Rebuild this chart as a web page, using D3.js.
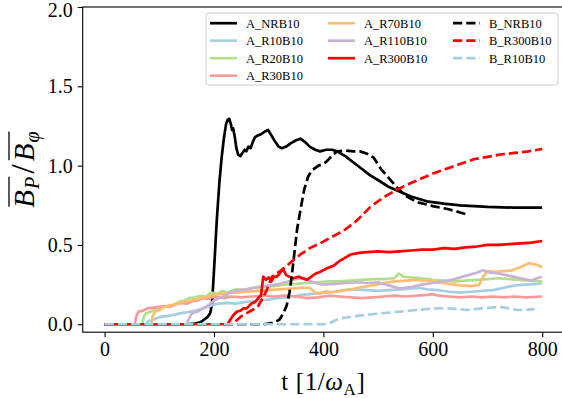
<!DOCTYPE html>
<html>
<head>
<meta charset="utf-8">
<script src="https://cdn.jsdelivr.net/npm/d3@7"></script>
<style>
  body { margin: 0; background: #fff; }
  svg text { font-family: "Liberation Serif", "DejaVu Serif", serif; }
</style>
</head>
<body>
<svg id="chart" width="562" height="398"></svg>
<script>
// Time series of the poloidal / toroidal mean-field ratio, [t, ratio]
const A_NRB10 = [[0,0],[150,0],[165,0.005],[175,0.012],[181,0.027],[188,0.045],[193,0.07],[196,0.12],[198,0.22],[201,0.4],[205,0.65],[210,0.9],[214,1.05],[218,1.17],[222,1.26],[225,1.29],[228,1.295],[231,1.26],[233,1.225],[235,1.235],[238,1.18],[241,1.11],[244,1.07],[248,1.06],[252,1.08],[256,1.1],[259,1.09],[263,1.12],[267,1.11],[271,1.15],[275,1.18],[280,1.19],[287,1.2],[293,1.215],[299,1.225],[305,1.19],[312,1.15],[318,1.12],[324,1.11],[332,1.12],[340,1.14],[350,1.16],[358,1.17],[366,1.15],[375,1.12],[385,1.1],[394,1.09],[405,1.1],[416,1.1],[425,1.09],[440,1.06],[455,1.02],[470,0.98],[485,0.94],[504,0.9],[520,0.865],[540,0.835],[560,0.805],[589,0.775],[620,0.76],[650,0.75],[700,0.74],[750,0.735],[800,0.735]];
const A_R10B10 = [[0,0],[75,0],[80,0.02],[90,0.03],[100,0.045],[110,0.05],[120,0.055],[130,0.062],[140,0.07],[150,0.075],[160,0.082],[170,0.09],[180,0.1],[190,0.11],[200,0.125],[210,0.13],[225,0.135],[240,0.13],[255,0.14],[270,0.145],[285,0.15],[300,0.155],[315,0.165],[330,0.17],[345,0.175],[360,0.185],[375,0.19],[390,0.195],[405,0.2],[420,0.205],[440,0.215],[460,0.22],[480,0.215],[500,0.21],[520,0.215],[540,0.22],[560,0.225],[575,0.23],[590,0.22],[610,0.215],[630,0.205],[650,0.2],[670,0.205],[690,0.21],[710,0.215],[730,0.23],[750,0.245],[770,0.25],[790,0.255],[800,0.26]];
const A_R20B10 = [[0,0],[68,0],[72,0.05],[76,0.07],[85,0.08],[95,0.1],[105,0.105],[115,0.115],[125,0.12],[135,0.14],[145,0.15],[155,0.165],[165,0.17],[175,0.18],[185,0.175],[195,0.2],[205,0.19],[215,0.21],[225,0.2],[240,0.22],[255,0.215],[270,0.23],[290,0.235],[310,0.24],[330,0.25],[350,0.255],[370,0.26],[390,0.265],[410,0.27],[430,0.27],[450,0.275],[470,0.28],[490,0.285],[510,0.285],[530,0.29],[538,0.32],[546,0.3],[560,0.295],[580,0.29],[600,0.28],[620,0.275],[640,0.27],[660,0.275],[680,0.28],[700,0.285],[720,0.29],[740,0.285],[760,0.28],[780,0.275],[800,0.27]];
const A_R30B10 = [[0,0],[55,0],[58,0.05],[62,0.08],[70,0.085],[78,0.1],[90,0.105],[100,0.11],[110,0.115],[120,0.11],[130,0.125],[140,0.135],[150,0.13],[160,0.145],[170,0.15],[180,0.165],[190,0.16],[200,0.175],[210,0.17],[220,0.165],[230,0.175],[250,0.17],[270,0.175],[290,0.18],[310,0.175],[330,0.18],[350,0.175],[370,0.165],[390,0.17],[410,0.18],[430,0.175],[450,0.17],[470,0.165],[490,0.17],[510,0.175],[530,0.18],[550,0.175],[570,0.18],[590,0.185],[600,0.19],[610,0.18],[630,0.175],[650,0.17],[670,0.175],[690,0.17],[710,0.175],[730,0.17],[750,0.175],[770,0.17],[800,0.175]];
const A_R70B10 = [[0,0],[85,0],[88,0.05],[92,0.08],[100,0.09],[110,0.11],[120,0.12],[130,0.125],[140,0.14],[150,0.145],[160,0.15],[170,0.16],[180,0.17],[190,0.175],[200,0.185],[210,0.19],[220,0.195],[230,0.2],[240,0.2],[260,0.205],[280,0.21],[300,0.215],[320,0.22],[340,0.225],[360,0.23],[375,0.23],[385,0.2],[395,0.195],[405,0.21],[415,0.2],[430,0.21],[450,0.22],[470,0.235],[490,0.245],[510,0.26],[530,0.27],[550,0.275],[570,0.28],[590,0.275],[610,0.265],[630,0.255],[650,0.245],[670,0.24],[685,0.25],[692,0.3],[700,0.335],[715,0.33],[730,0.335],[745,0.34],[760,0.36],[775,0.385],[790,0.375],[800,0.36]];
const A_R110B10 = [[0,0],[150,0],[155,0.04],[160,0.07],[170,0.08],[180,0.1],[190,0.12],[200,0.15],[210,0.165],[220,0.18],[230,0.2],[245,0.215],[260,0.22],[275,0.23],[290,0.24],[305,0.245],[320,0.255],[335,0.27],[350,0.285],[360,0.29],[370,0.28],[385,0.26],[400,0.25],[420,0.255],[440,0.26],[460,0.265],[480,0.26],[500,0.265],[520,0.245],[540,0.225],[560,0.235],[580,0.25],[600,0.26],[620,0.27],[640,0.285],[660,0.305],[680,0.325],[692,0.34],[705,0.325],[720,0.32],[740,0.305],[760,0.29],[780,0.275],[790,0.29],[800,0.3]];
const A_R300B10 = [[0,0],[225,0],[230,0.03],[236,0.06],[242,0.08],[248,0.085],[254,0.1],[260,0.1],[268,0.13],[275,0.14],[282,0.17],[286,0.18],[290,0.3],[295,0.28],[300,0.295],[305,0.27],[310,0.3],[315,0.3],[320,0.32],[326,0.35],[332,0.31],[338,0.3],[345,0.29],[355,0.3],[362,0.29],[370,0.28],[378,0.3],[386,0.32],[394,0.33],[405,0.35],[419,0.37],[430,0.4],[440,0.42],[450,0.44],[465,0.45],[480,0.455],[500,0.46],[520,0.455],[540,0.46],[560,0.465],[580,0.47],[600,0.47],[620,0.48],[640,0.475],[660,0.485],[680,0.49],[700,0.5],[720,0.5],[740,0.505],[760,0.51],[780,0.515],[800,0.525]];
const B_NRB10 = [[0,0],[290,0],[300,0.005],[310,0.01],[320,0.03],[327,0.07],[333,0.12],[338,0.2],[342,0.3],[347,0.45],[352,0.6],[358,0.72],[365,0.85],[372,0.93],[379,0.97],[391,1.0],[400,1.01],[407,1.03],[415,1.06],[425,1.09],[440,1.095],[455,1.09],[467,1.09],[480,1.075],[492,1.05],[505,0.98],[520,0.92],[535,0.86],[550,0.81],[571,0.77],[600,0.745],[629,0.725],[650,0.705],[665,0.69]];
const B_R300B10 = [[0,0],[235,0],[240,0.02],[250,0.05],[260,0.07],[270,0.09],[280,0.11],[290,0.17],[297,0.22],[306,0.3],[315,0.32],[327,0.35],[340,0.39],[358,0.44],[375,0.48],[394,0.51],[415,0.55],[437,0.59],[460,0.65],[486,0.74],[510,0.8],[535,0.85],[560,0.89],[580,0.92],[600,0.95],[625,0.98],[650,1.01],[675,1.04],[700,1.055],[723,1.07],[750,1.08],[775,1.09],[800,1.105]];
const B_R10B10 = [[0,0],[405,0],[413,0.01],[425,0.03],[437,0.04],[455,0.05],[480,0.06],[510,0.07],[541,0.08],[570,0.09],[602,0.1],[630,0.1],[662,0.09],[690,0.1],[723,0.11],[740,0.1],[754,0.09],[770,0.09],[786,0.095]];

const seriesNames = ["A_NRB10","A_R10B10","A_R20B10","A_R30B10","A_R70B10","A_R110B10","A_R300B10","B_NRB10","B_R300B10","B_R10B10"];
const seriesData = [A_NRB10, A_R10B10, A_R20B10, A_R30B10, A_R70B10, A_R110B10, A_R300B10, B_NRB10, B_R300B10, B_R10B10];
const xTicks = [0, 200, 400, 600, 800];
const yTicks = [0, 0.5, 1.0, 1.5, 2.0];

// line styles per series
const colors = ["#000000","#a6cee3","#b2df8a","#fb9a99","#fdbf6f","#cab2d6","#ff0000","#000000","#ff0000","#a6cee3"];
const dashed = [false,false,false,false,false,false,false,true,true,true];

const svg = d3.select("#chart");
const pL = 82.7, pR = 564.1, pT = 7, pB = 332.2;

const x = d3.scaleLinear().domain([-40, 840]).range([pL, pR]);
const y = d3.scaleLinear().domain([-0.05, 2.0]).range([pB, pT]);

svg.append("defs").append("clipPath").attr("id", "plotclip")
  .append("rect").attr("x", pL).attr("y", pT).attr("width", pR - pL).attr("height", pB - pT);

const line = d3.line().x(d => x(d[0])).y(d => y(d[1]));

const plot = svg.append("g").attr("clip-path", "url(#plotclip)");
seriesData.forEach((data, i) => {
  plot.append("path")
    .datum(data)
    .attr("d", line)
    .attr("fill", "none")
    .attr("stroke", colors[i])
    .attr("stroke-width", 2.7)
    .attr("stroke-linejoin", "round")
    .attr("stroke-dasharray", dashed[i] ? "9.25,4" : null);
});

// axes
const xAxis = svg.append("g").attr("transform", `translate(0,${pB})`)
  .call(d3.axisBottom(x).tickValues(xTicks).tickFormat(d3.format("d")).tickSize(5).tickPadding(5));
const yAxis = svg.append("g").attr("transform", `translate(${pL},0)`)
  .call(d3.axisLeft(y).tickValues(yTicks).tickFormat(d3.format(".1f")).tickSize(5).tickPadding(5));
[xAxis, yAxis].forEach(g => {
  g.select(".domain").remove();
  g.selectAll("line").attr("stroke", "#000").attr("stroke-width", 1.1);
  g.selectAll("text").attr("fill", "#000").style("font-size", "20px")
    .style("font-family", '"Liberation Serif", serif');
});
// keep the top label inside the canvas
yAxis.selectAll(".tick text").filter(d => d === 2.0).attr("dy", "0.45em");

// frame
svg.append("rect").attr("x", pL).attr("y", pT).attr("width", pR - pL).attr("height", pB - pT)
  .attr("fill", "none").attr("stroke", "#000").attr("stroke-width", 1.1);

// x-axis label
const xl = svg.append("text").attr("x", (pL + pR) / 2).attr("y", 390)
  .attr("text-anchor", "middle").style("font-size", "25px").attr("fill", "#000")
  .style("letter-spacing", "0.6px");
xl.append("tspan").text("t [1/");
xl.append("tspan").style("font-style", "italic").text("ω");
xl.append("tspan").attr("dy", 5).style("font-size", "17px").text("A");
xl.append("tspan").attr("dy", -5).text("]");

// y-axis label with overlined field components
const yMid = (pT + pB) / 2;
const yl = svg.append("g").attr("transform", `translate(34,${yMid}) rotate(-90)`);
const yt = yl.append("text").attr("text-anchor", "middle").style("font-size", "29px").attr("fill", "#000");
yt.append("tspan").style("font-style", "italic").text("B");
yt.append("tspan").attr("dy", 5).attr("dx", 1).style("font-size", "20px").style("font-style", "italic").text("P");
yt.append("tspan").attr("dy", -5).attr("dx", 3).style("font-size", "34px").text("/");
yt.append("tspan").attr("dx", 3).style("font-style", "italic").text("B");
yt.append("tspan").attr("dy", 5).attr("dx", 1).style("font-size", "20px").style("font-style", "italic").text("φ");
const tnode = yt.node();
[[0, 1], [3, 4]].forEach(([a, b]) => {
  const ea = tnode.getExtentOfChar(a), eb = tnode.getExtentOfChar(b);
  yl.append("line")
    .attr("x1", ea.x + 1).attr("x2", eb.x + eb.width)
    .attr("y1", -25).attr("y2", -25)
    .attr("stroke", "#000").attr("stroke-width", 1.3);
});

// legend
const legend = svg.append("g");
legend.append("rect").attr("x", 206).attr("y", 13).attr("width", 352).attr("height", 72)
  .attr("rx", 3).attr("fill", "#fff").attr("fill-opacity", 0.8)
  .attr("stroke", "#cccccc").attr("stroke-width", 1);
const colX = [210, 328, 453];
const rowY0 = 23.2, rowStep = 17.5;
const perCol = [4, 3, 3];
let k = 0;
perCol.forEach((n, c) => {
  for (let r = 0; r < n; r++, k++) {
    const yy = rowY0 + r * rowStep;
    legend.append("line")
      .attr("x1", colX[c]).attr("x2", colX[c] + 27).attr("y1", yy).attr("y2", yy)
      .attr("stroke", colors[k]).attr("stroke-width", 2.7)
      .attr("stroke-dasharray", dashed[k] ? "9.25,4" : null);
    legend.append("text").attr("x", colX[c] + 36).attr("y", yy + 4.3)
      .style("font-size", "12.5px").attr("fill", "#000").text(seriesNames[k]);
  }
});
</script>
</body>
</html>
